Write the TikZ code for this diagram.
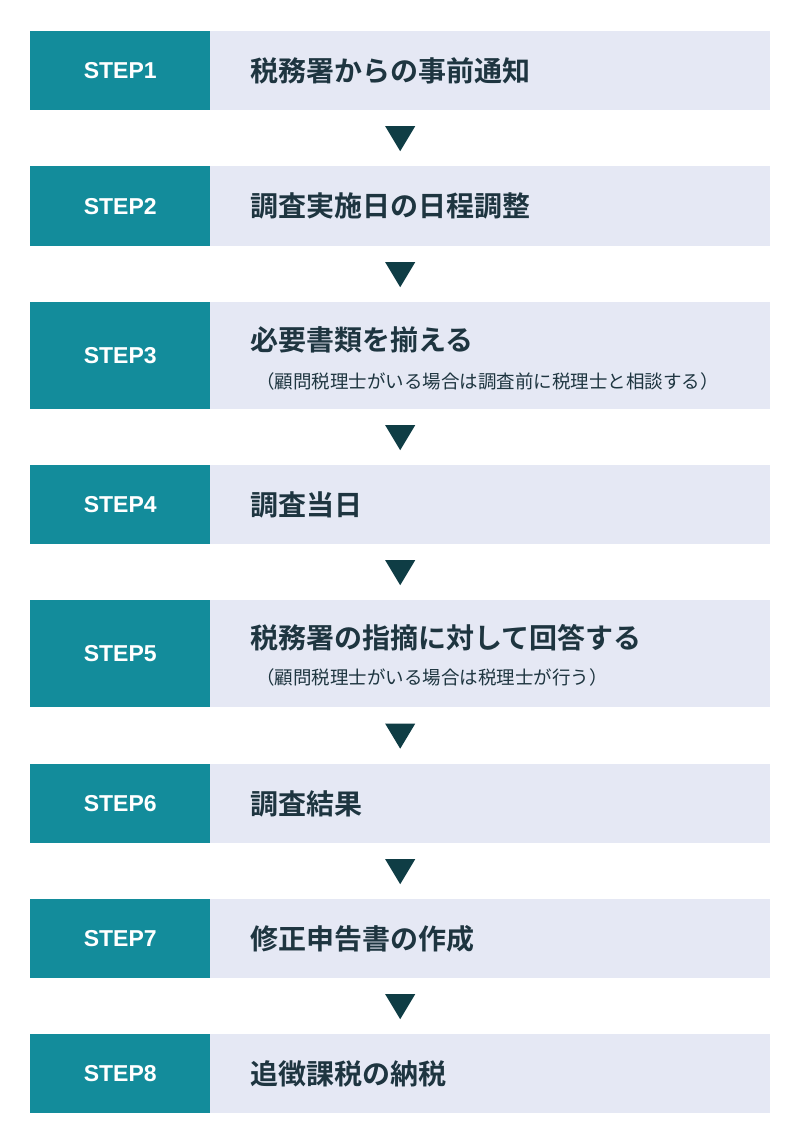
\documentclass[tikz,border=0pt]{standalone}
\usepackage{fontspec}
\newfontfamily\jp{Noto Sans CJK JP}
\newfontfamily\jpb{Noto Sans CJK JP Bold}
\newfontfamily\lsb{Liberation Sans Bold}
\definecolor{teal1}{HTML}{138C9B}
\definecolor{lite}{HTML}{E5E8F4}
\definecolor{dark}{HTML}{0F3D45}
\definecolor{txt}{HTML}{1E3540}
\tikzset{
 stepbox/.style={fill=teal1,draw=none,minimum width=180pt,inner sep=0pt,anchor=north west,text=white,font=\lsb\fontsize{23}{26}\selectfont},
 bodybox/.style={fill=lite,draw=none,minimum width=560pt,inner sep=0pt,anchor=north west},
 ttl/.style={anchor=west,text=txt,font=\jpb\fontsize{28}{32}\selectfont,inner sep=0pt},
 sub/.style={anchor=west,text=txt,font=\jp\fontsize{18.5}{22}\selectfont,inner sep=0pt},
 tri/.style={fill=dark,draw=none}
}
\begin{document}
\begin{tikzpicture}[x=1pt,y=-1pt]
\useasboundingbox (0,0) rectangle (800,1146);
\fill[white] (0,0) rectangle (800,1146);
\foreach \i/\t/\h in {1/31/79,2/166/80,3/302/107,4/465/79,5/600/107,6/764/79,7/899/79,8/1034/79}{
 \node[bodybox,minimum height=\h pt] (b\i) at (210,\t) {};
 \node[stepbox,minimum height=\h pt] (s\i) at (30,\t) {STEP\i};
}
\node[ttl] (t1) at (250,71) {税務署からの事前通知};
\node[ttl] (t2) at (250,206) {調査実施日の日程調整};
\node[ttl] (t3) at (250,340) {必要書類を揃える};
\node[sub] (u3) at (256,381) {（顧問税理士がいる場合は調査前に税理士と相談する）};
\node[ttl] (t4) at (250,505) {調査当日};
\node[ttl] (t5) at (250,638) {税務署の指摘に対して回答する};
\node[sub] (u5) at (256,677) {（顧問税理士がいる場合は税理士が行う）};
\node[ttl] (t6) at (250,804) {調査結果};
\node[ttl] (t7) at (250,939) {修正申告書の作成};
\node[ttl] (t8) at (250,1074) {追徴課税の納税};
\foreach \a/\c in {1/2,2/3,3/4,4/5,5/6,6/7,7/8}{
 \path (s\a.south west) -- (b\a.south east) coordinate[midway] (p\a);
 \path (p\a) -- (p\a |- b\c.north) coordinate[midway] (m\a);
 \fill[tri] ([shift={(-15,-12)}]m\a) -- ([shift={(15,-12)}]m\a) -- ([shift={(0,13)}]m\a) -- cycle;
}
\end{tikzpicture}
\end{document}
